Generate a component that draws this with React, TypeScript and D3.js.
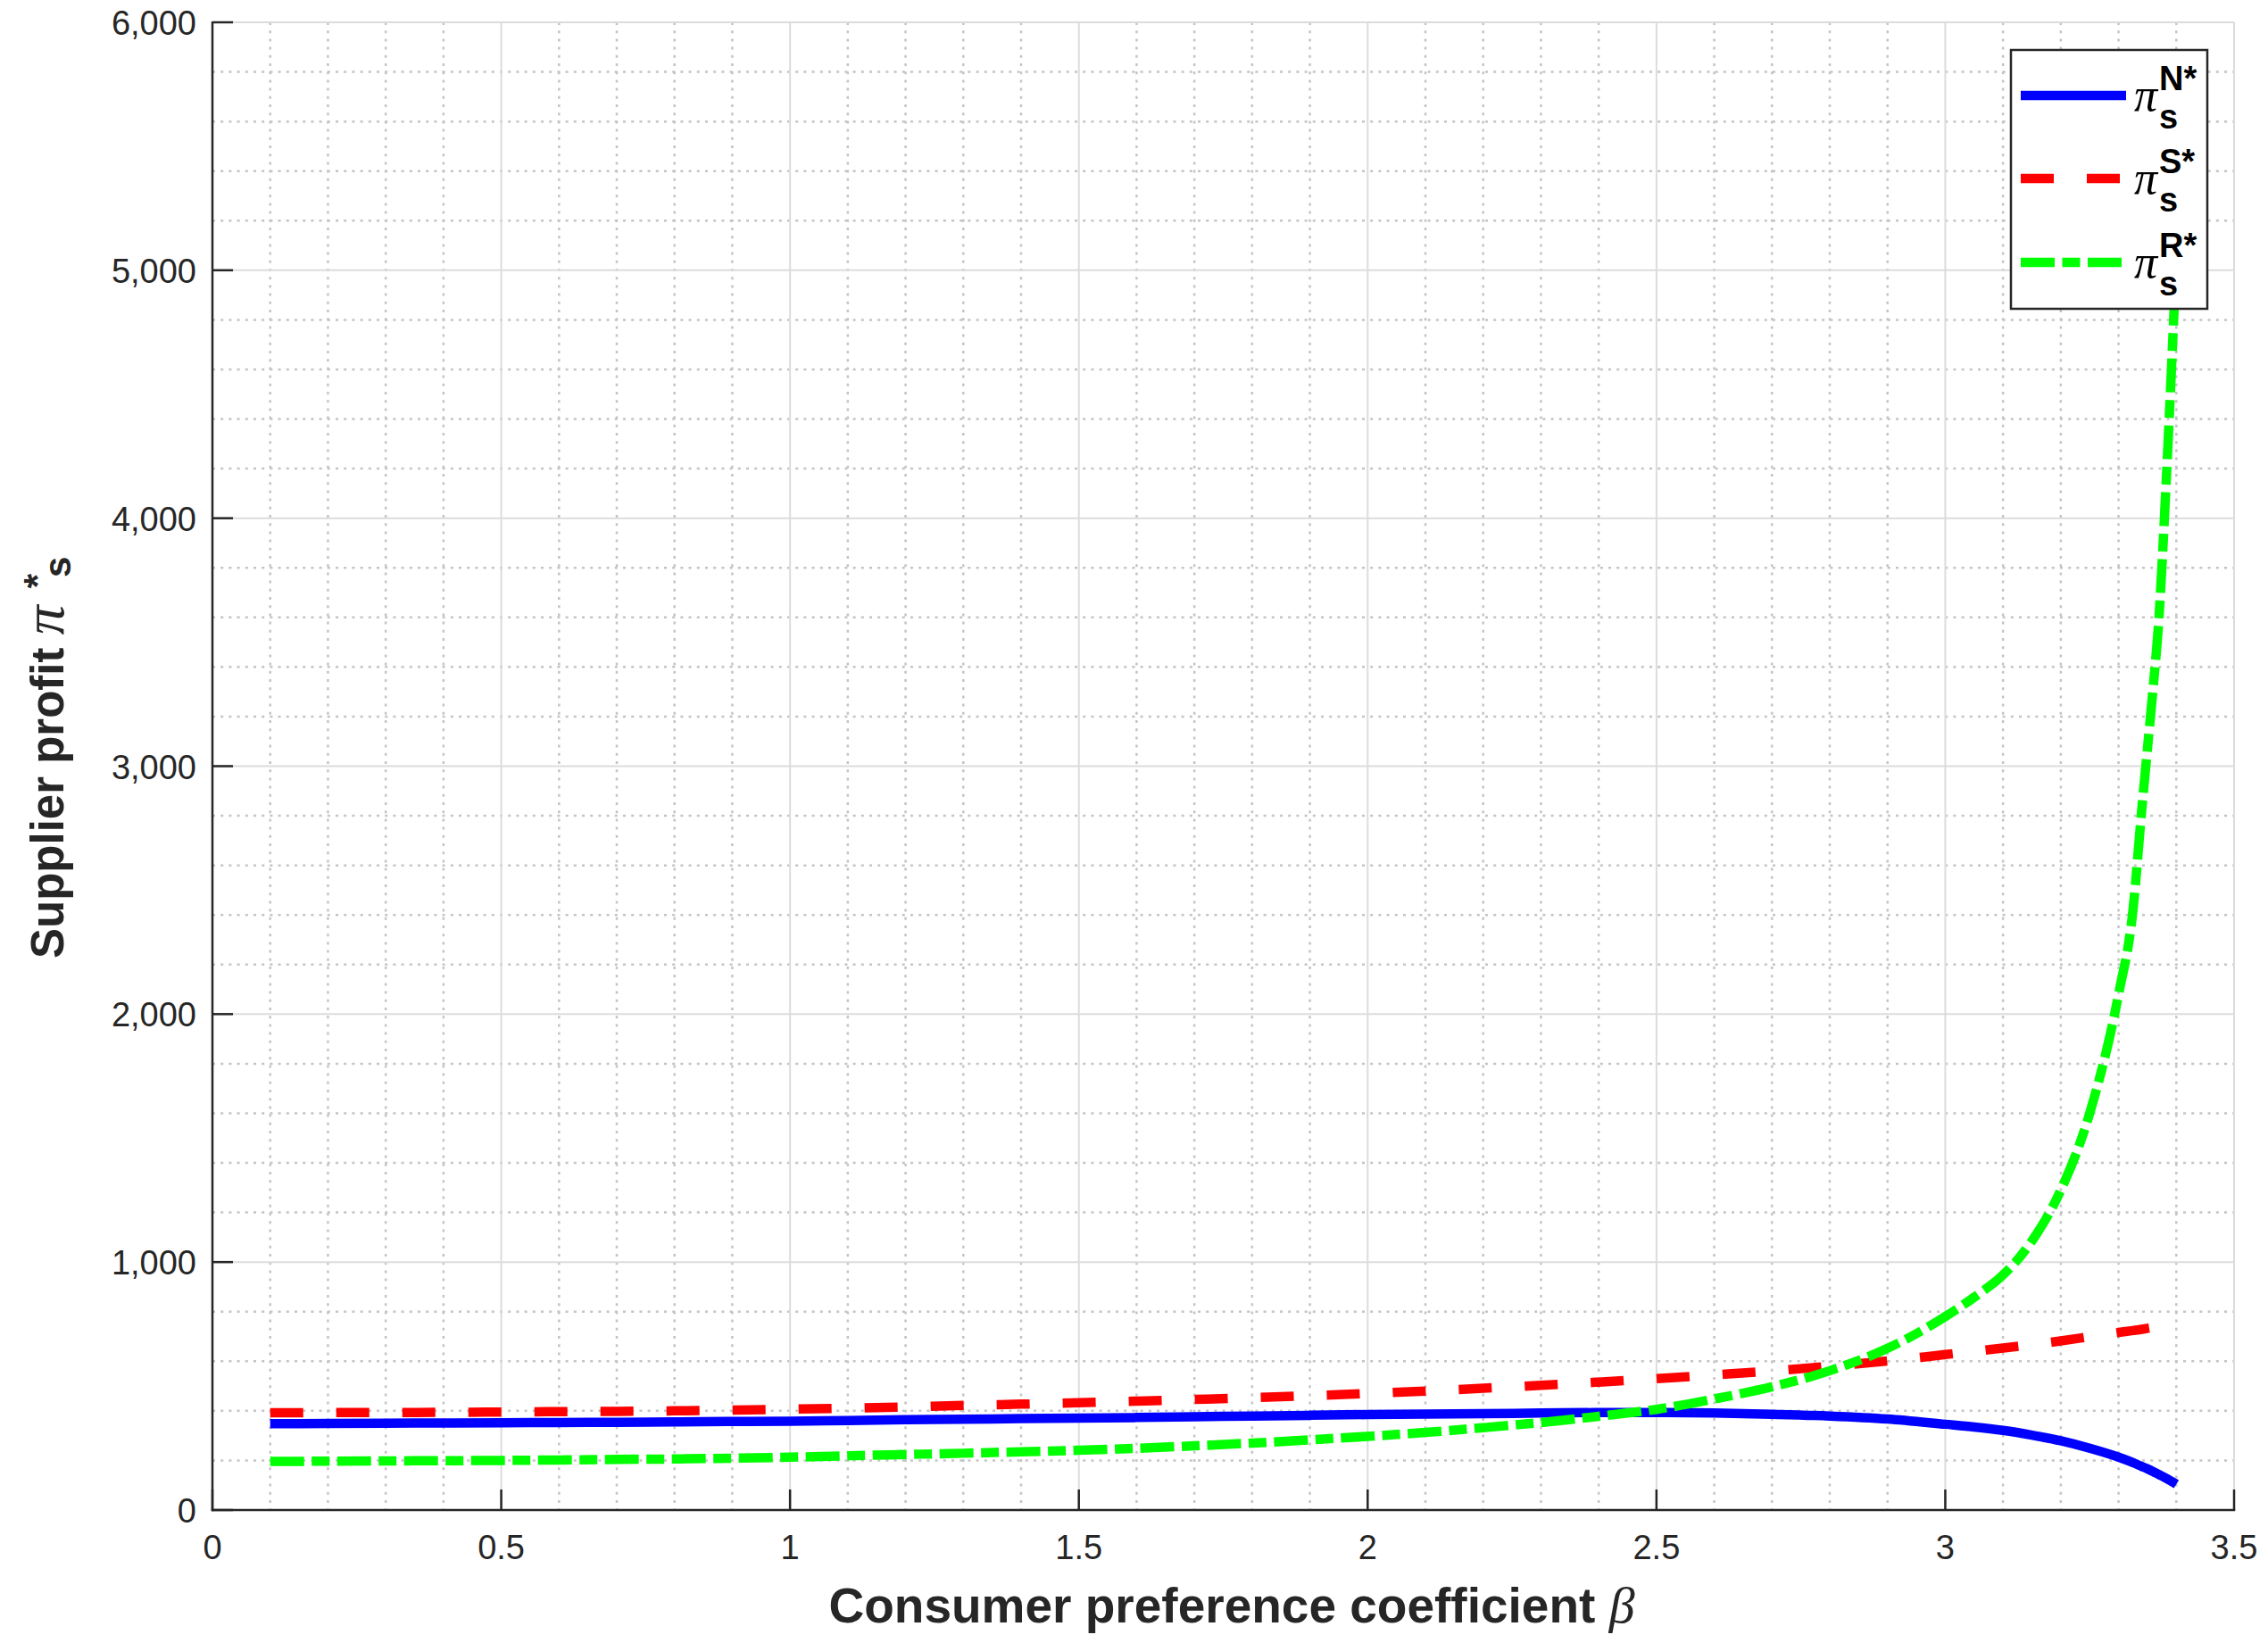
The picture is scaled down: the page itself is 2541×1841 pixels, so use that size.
import React from "react";
import * as d3 from "d3";

const beta = [0.1,0.2,0.3,0.4,0.5,0.6,0.7,0.8,0.9,1.0,1.1,1.2,1.3,1.4,1.5,1.6,1.7,1.8,1.9,2.0,2.1,2.2,2.3,2.4,2.5,2.6,2.7,2.8,2.9,3.0,3.05,3.1,3.15,3.2,3.25,3.3,3.325,3.34,3.35,3.36,3.37,3.38,3.39,3.4];
const profitN = [348,349,350,351,352,353,354,355,357,358,361,364,366,369,371,373,376,379,382,385,387,389,391,393,393,391,386,379,367,346,335,321,302,279,249,213,191,176,166,155,143,131,118,104];
const profitS = [392,393,393,394,395,397,398,400,403,407,411,416,422,427,433,439,446,453,461,470,480,491,503,516,530,545,561,580,601,627,640,653,667,682,699,716,724,729,733,737,742,746,750,755];
const profitR = [196,197,198,199,200,202,204,206,209,213,219,224,229,235,241,249,259,270,283,297,313,332,353,378,406,448,497,562,652,780,858,948,1085,1290,1600,2080,2420,2820,3070,3320,3600,4030,4520,5050];

const xMajor = [0,0.5,1,1.5,2,2.5,3,3.5];
const xMinor = [0.1,0.2,0.3,0.4,0.6,0.7,0.8,0.9,1.1,1.2,1.3,1.4,1.6,1.7,1.8,1.9,2.1,2.2,2.3,2.4,2.6,2.7,2.8,2.9,3.1,3.2,3.3,3.4];
const yMajor = [0,1000,2000,3000,4000,5000,6000];
const yMinor = [200,400,600,800,1200,1400,1600,1800,2200,2400,2600,2800,3200,3400,3600,3800,4200,4400,4600,4800,5200,5400,5600,5800];

const seriesNames = ["N*", "S*", "R*"];

export default function App() {
  const L = 238, R = 2503, T = 25, B = 1692;
  const x = d3.scaleLinear().domain([0, 3.5]).range([L, R]);
  const y = d3.scaleLinear().domain([0, 6000]).range([B, T]);
  const axisColor = "#262626";
  const mkLine = (vals: number[]) =>
    d3.line<number>().x((_, i) => x(beta[i])).y((v) => y(v)).curve(d3.curveMonotoneX)(vals) || "";
  const series = [
    { vals: profitN, color: "#0000ff", dash: "none" },
    { vals: profitS, color: "#ff0000", dash: "37,37" },
    { vals: profitR, color: "#00ff00", dash: "38,8.5,20,8.5" },
  ];
  const fmt = d3.format(",");
  const legX = 2253, legY = 56, legW = 220, legH = 290;
  const rowY = [107, 200, 294];

  return (
    <svg width={2541} height={1841} style={{ position: "absolute", left: 0, top: 0, background: "#fff" }}
      fontFamily="'Liberation Sans', Arial, sans-serif">
      <rect x={0} y={0} width={2541} height={1841} fill="#fff" />
      {/* minor grid */}
      {xMinor.map((v) => (
        <line key={"xm" + v} x1={x(v)} x2={x(v)} y1={T} y2={B} stroke="#c4c4c4" strokeWidth={2.5} strokeDasharray="3,6.2" />
      ))}
      {yMinor.map((v) => (
        <line key={"ym" + v} x1={L} x2={R} y1={y(v)} y2={y(v)} stroke="#c4c4c4" strokeWidth={2.5} strokeDasharray="3,6.2" />
      ))}
      {/* major grid */}
      {xMajor.filter((v) => v > 0).map((v) => (
        <line key={"xM" + v} x1={x(v)} x2={x(v)} y1={T} y2={B} stroke="#dcdcdc" strokeWidth={2} />
      ))}
      {yMajor.filter((v) => v > 0).map((v) => (
        <line key={"yM" + v} x1={L} x2={R} y1={y(v)} y2={y(v)} stroke="#dcdcdc" strokeWidth={2} />
      ))}
      {/* data */}
      <g>
        {series.map((s, i) => (
          <path key={i} d={mkLine(s.vals)} fill="none" stroke={s.color} strokeWidth={10.5}
            strokeDasharray={s.dash} strokeLinejoin="round" />
        ))}
      </g>
      {/* axes */}
      <line x1={L} x2={L} y1={T - 1} y2={B + 1.25} stroke={axisColor} strokeWidth={2.5} />
      <line x1={L - 1.25} x2={R + 1.25} y1={B} y2={B} stroke={axisColor} strokeWidth={2.5} />
      {xMajor.map((v) => (
        <line key={"xt" + v} x1={x(v)} x2={x(v)} y1={B} y2={B - 23} stroke={axisColor} strokeWidth={2.5} />
      ))}
      {yMajor.map((v) => (
        <line key={"yt" + v} x1={L} x2={L + 23} y1={y(v)} y2={y(v)} stroke={axisColor} strokeWidth={2.5} />
      ))}
      {xMajor.map((v) => (
        <text key={"xl" + v} x={x(v)} y={1747} fontSize={38} fill={axisColor} textAnchor="middle">{String(v)}</text>
      ))}
      {yMajor.map((v) => (
        <text key={"yl" + v} x={220} y={y(v) + 14} fontSize={38} fill={axisColor} textAnchor="end">{fmt(v)}</text>
      ))}
      {/* x label */}
      <text x={1380} y={1818} fontSize={55} fontWeight="bold" fill={axisColor} textAnchor="middle">
        Consumer preference coefficient{" "}
        <tspan fontFamily="'Liberation Serif', serif" fontStyle="italic" fontWeight="normal" fontSize={58}>β</tspan>
      </text>
      {/* y label */}
      <g transform="translate(71,1074) rotate(-90)">
        <text x={0} y={0} fontSize={51} fontWeight="bold" fill={axisColor}>
          Supplier profit{" "}
          <tspan fontFamily="'Liberation Serif', serif" fontStyle="italic" fontWeight="normal" fontSize={66}>π</tspan>
          <tspan fontSize={42} dx={19} dy={-15}>*</tspan>
          <tspan fontSize={42} dx={-4} dy={23}>s</tspan>
        </text>
      </g>
      {/* legend */}
      <rect x={legX} y={legY} width={legW} height={legH} fill="#fff" stroke={axisColor} strokeWidth={2.5} />
      {series.map((s, i) => (
        <g key={"lg" + i}>
          <line x1={2264} x2={2382} y1={rowY[i]} y2={rowY[i]} stroke={s.color} strokeWidth={10.5} strokeDasharray={s.dash} />
          <text x={2391} y={rowY[i] + 17} fontSize={52} fill="#000" fontFamily="'Liberation Serif', serif" fontStyle="italic">π</text>
          <text x={2419} y={rowY[i] - 6} fontSize={38} fontWeight="bold" fill="#000">{seriesNames[i]}</text>
          <text x={2419} y={rowY[i] + 37} fontSize={38} fontWeight="bold" fill="#000">s</text>
        </g>
      ))}
    </svg>
  );
}
